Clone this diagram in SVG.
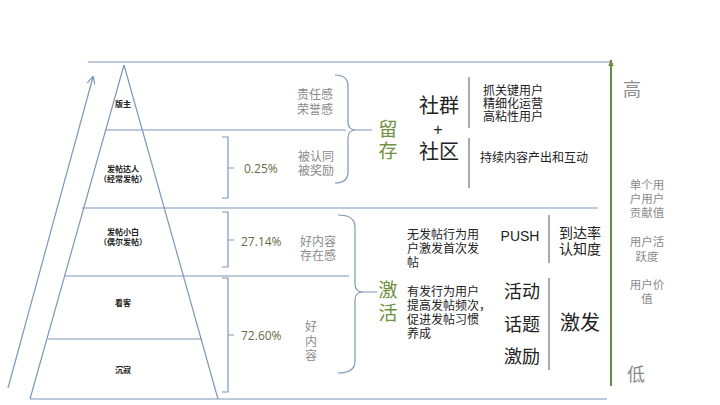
<svg xmlns="http://www.w3.org/2000/svg" width="720" height="405" viewBox="0 0 720 405">
<defs>
<style>
text{font-family:"Liberation Sans","Noto Sans CJK SC",sans-serif;dominant-baseline:central;}
.ln{stroke:#7d96b8;stroke-width:1.2;fill:none;}
.br{stroke:#7d96b8;stroke-width:1.2;fill:none;}
.sep{stroke:#555;stroke-width:1;}
.pl{font-size:8px;font-weight:bold;fill:#222;text-anchor:middle;}
.gr{font-size:12px;fill:#8a8a8a;}
.pc{font-size:12px;fill:#5f6e45;font-family:"Open Sans","Noto Sans",sans-serif;}
.big{font-size:19px;fill:#6f9240;text-anchor:middle;}
.bk{fill:#222;}
.rt{font-size:11.5px;fill:#8a8a8a;text-anchor:middle;}
</style>
<marker id="ah" viewBox="0 0 10 10" refX="9" refY="5" markerWidth="8" markerHeight="8" orient="auto-start-reverse" markerUnits="userSpaceOnUse">
<path d="M0,0 L10,5 L0,10" fill="none" stroke="#7d96b8" stroke-width="1.5"/>
</marker>
<marker id="gh" viewBox="0 0 10 10" refX="9" refY="5" markerWidth="7" markerHeight="7" orient="auto" markerUnits="userSpaceOnUse">
<path d="M0,1 L10,5 L0,9 Z" fill="#6a8a42"/>
</marker>
</defs>
<rect width="720" height="405" fill="#ffffff"/>

<g id="connectors">
<line class="ln" x1="88" y1="62" x2="611" y2="62"/>
<line class="ln" x1="106" y1="130" x2="346" y2="130"/>
<line class="ln" x1="82" y1="208" x2="598" y2="208"/>
<line class="ln" x1="65" y1="276" x2="349" y2="276"/>
<line class="ln" x1="48" y1="339" x2="202" y2="339"/>
<line class="ln" x1="30" y1="399" x2="607" y2="399"/>
<line class="ln" x1="8" y1="388" x2="93" y2="77" marker-end="url(#ah)"/>
<line x1="611" y1="386" x2="611" y2="60" stroke="#6a8a42" stroke-width="2" marker-end="url(#gh)"/>
<line class="sep" x1="469" y1="77" x2="469" y2="128"/>
<line class="sep" x1="469" y1="138" x2="469" y2="188"/>
<line class="sep" x1="549" y1="215" x2="549" y2="263"/>
<line class="sep" x1="549" y1="278" x2="549" y2="370"/>
</g>

<g id="pyramid">
<path class="ln" d="M124,65 L30,399 M124,65 L218,399"/>
<text class="pl" x="123" y="104">版主</text>
<text class="pl" x="123" y="169">发帖达人<tspan x="123" dy="10">（经常发帖）</tspan></text>
<text class="pl" x="123" y="232">发帖小白<tspan x="123" dy="10">（偶尔发帖）</tspan></text>
<text class="pl" x="123" y="303">看客</text>
<text class="pl" x="123" y="370">沉寂</text>
</g>

<g id="brace-025">
<path class="br" d="M222,137 H228 V198 H222 M228,168 H234"/>
<text class="pc" x="244" y="168">0.25%</text>
</g>
<g id="brace-2714">
<path class="br" d="M222,212 H228 V267 H222 M228,240 H234"/>
<text class="pc" x="241" y="241">27.14%</text>
</g>
<g id="brace-7260">
<path class="br" d="M222,278 H228 V392 H222 M228,335 H234"/>
<text class="pc" x="241" y="335">72.60%</text>
</g>

<g id="labels-left">
<text class="gr" x="297" y="95">责任感<tspan x="297" dy="15">荣誉感</tspan></text>
<text class="gr" x="298" y="157">被认同<tspan x="298" dy="14">被奖励</tspan></text>
<text class="gr" x="300" y="242">好内容<tspan x="300" dy="14">存在感</tspan></text>
<text class="gr" x="305" y="327">好<tspan x="305" dy="14.5">内</tspan><tspan x="305" dy="14.5">容</tspan></text>
</g>

<g id="retain">
<path class="br" d="M335,75 Q348,75 348,86 V122 Q348,130 356,130 Q348,130 348,138 V172 Q348,183 335,183 M356,130 H372"/>
<text class="big" x="388" y="129">留<tspan x="388" dy="22">存</tspan></text>
</g>

<g id="activate">
<path class="br" d="M338,215 Q355,215 355,227 V284 Q355,292 363,292 Q355,292 355,300 V361 Q355,373 338,373 M363,292 H377"/>
<text class="big" x="388" y="290">激<tspan x="388" dy="23">活</tspan></text>
</g>

<g id="community">
<text class="bk" x="439" y="106" font-size="20" text-anchor="middle">社群<tspan x="438" dy="23" font-size="16">+</tspan><tspan x="439" dy="23" font-size="20">社区</tspan></text>
<text class="bk" x="483" y="91" font-size="12">抓关键用户<tspan x="483" dy="13">精细化运营</tspan><tspan x="483" dy="13">高粘性用户</tspan></text>
<text class="bk" x="480" y="158" font-size="12">持续内容产出和互动</text>
</g>

<g id="push">
<text class="bk" x="407" y="235" font-size="12">无发帖行为用<tspan x="407" dy="14">户激发首次发</tspan><tspan x="407" dy="14">帖</tspan></text>
<text class="bk" x="520" y="236" font-size="14" text-anchor="middle" font-family="Open Sans, sans-serif">PUSH</text>
<text class="bk" x="580" y="233" font-size="14" text-anchor="middle">到达率<tspan x="580" dy="16">认知度</tspan></text>
</g>

<g id="habit">
<text class="bk" x="407" y="292" font-size="12">有发行为用户<tspan x="407" dy="14">提高发帖频次，</tspan><tspan x="407" dy="14">促进发帖习惯</tspan><tspan x="407" dy="14">养成</tspan></text>
<text class="bk" x="522" y="292" font-size="18" text-anchor="middle">活动<tspan x="522" dy="33">话题</tspan><tspan x="522" dy="32">激励</tspan></text>
<text class="bk" x="580" y="323" font-size="20" text-anchor="middle">激发</text>
</g>

<g id="scale">
<text x="632" y="90" font-size="18" fill="#8a8a8a" text-anchor="middle">高</text>
<text x="636" y="375" font-size="18" fill="#8a8a8a" text-anchor="middle">低</text>
<text class="rt" x="647" y="185">单个用<tspan x="647" dy="14">户用户</tspan><tspan x="647" dy="14">贡献值</tspan></text>
<text class="rt" x="647" y="242">用户活<tspan x="647" dy="15">跃度</tspan></text>
<text class="rt" x="647" y="285">用户价<tspan x="647" dy="14">值</tspan></text>
</g>
</svg>
